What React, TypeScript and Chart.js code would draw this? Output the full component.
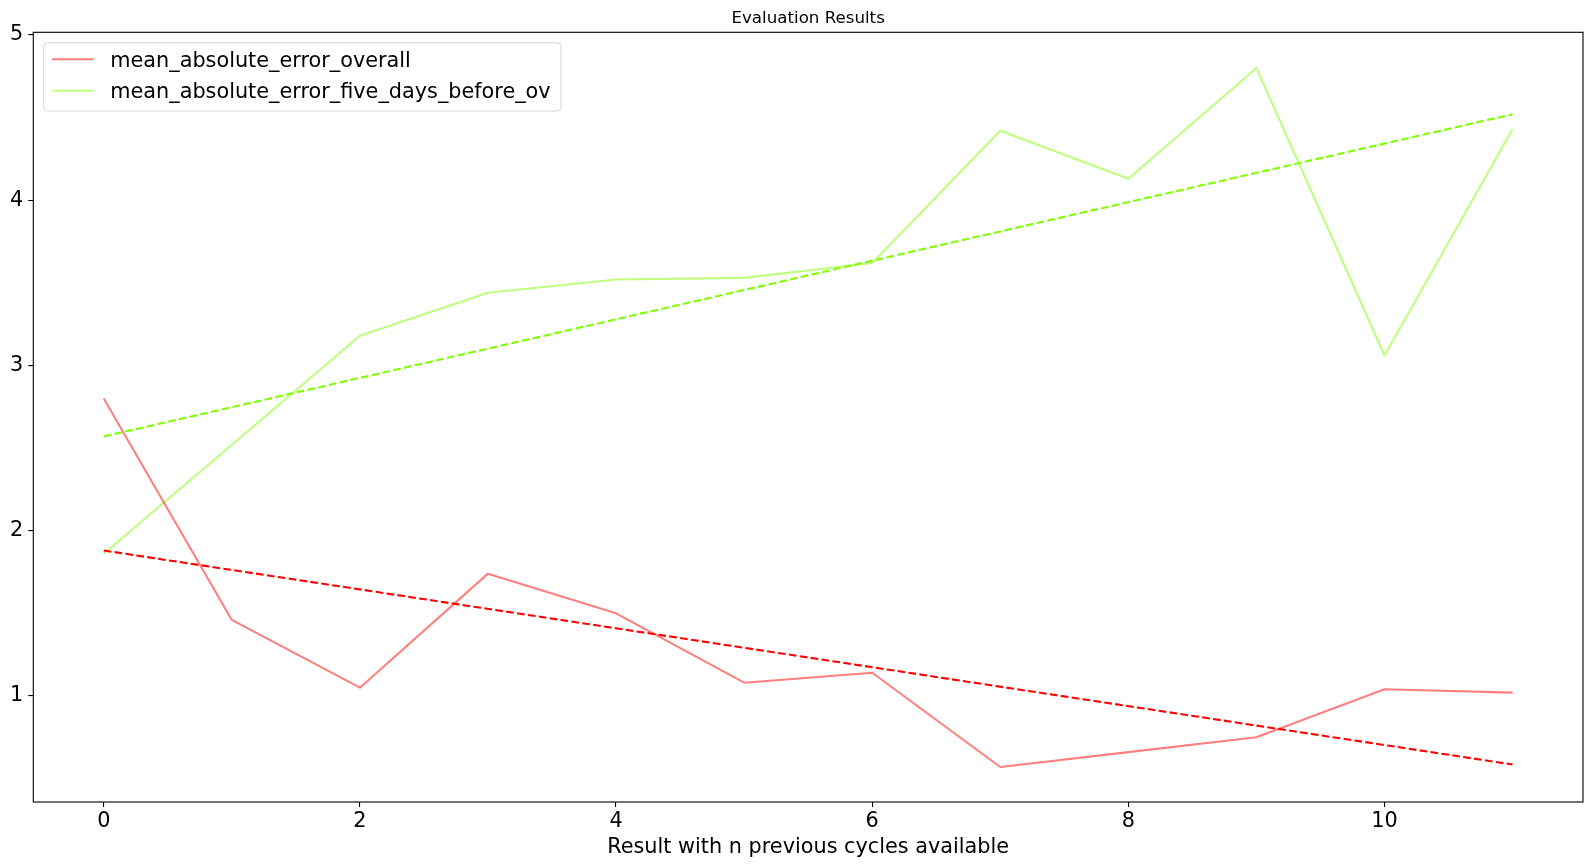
import React, { useEffect, useRef } from 'react';
import { Chart, registerables } from 'chart.js';

Chart.register(...registerables);

// ---- data ----
const cycles = [0, 1, 2, 3, 4, 5, 6, 7, 8, 9, 10, 11];
const maeOverall = [2.80, 1.46, 1.05, 1.74, 1.50, 1.08, 1.14, 0.57, 0.66, 0.75, 1.04, 1.02];
const maeFiveDays = [1.86, 2.52, 3.18, 3.44, 3.52, 3.53, 3.62, 4.42, 4.13, 4.80, 3.06, 4.43];
const trendX = [0, 11];
const trendOverall = [1.88, 0.585];
const trendFiveDays = [2.57, 4.52];
const xTicks = [0, 2, 4, 6, 8, 10];
const yTicks = [1, 2, 3, 4, 5];
const seriesLabels = ['mean_absolute_error_overall', 'mean_absolute_error_five_days_before_ov'];
const chartTitle = 'Evaluation Results';
const xTitle = 'Result with n previous cycles available';

const FONT = '"DejaVu Sans", "Liberation Sans", sans-serif';
const FS = 20.8;
const RED_LINE = 'rgba(255,0,0,0.5)';
const GREEN_LINE = 'rgba(127,255,0,0.5)';
const RED_TREND = 'rgb(255,0,0)';
const GREEN_TREND = 'rgb(127,255,0)';

const toXY = (xs: number[], ys: number[]) => xs.map((x, i) => ({ x, y: ys[i] }));

const framePlugin = {
  id: 'frameAndExtras',
  afterDraw(chart: any) {
    const { ctx, chartArea } = chart;
    const { left, right, top, bottom } = chartArea;
    ctx.save();
    // spines
    ctx.strokeStyle = '#000';
    ctx.lineWidth = 1.1;
    ctx.strokeRect(left, top, right - left, bottom - top);

    // title
    ctx.fillStyle = '#000';
    ctx.font = `16.67px ${FONT}`;
    ctx.textAlign = 'center';
    ctx.textBaseline = 'alphabetic';
    ctx.fillText(chartTitle, (left + right) / 2, 23);

    // legend
    ctx.font = `${FS}px ${FONT}`;
    const pad = 0.4 * FS;
    const handleLen = 2 * FS;
    const textPad = 0.8 * FS;
    const lx = left + 0.5 * FS;
    const ly = top + 0.5 * FS;
    const w = 561 - lx;
    const h = 111 - ly;
    const r = 4;
    ctx.beginPath();
    ctx.moveTo(lx + r, ly);
    ctx.lineTo(lx + w - r, ly);
    ctx.arcTo(lx + w, ly, lx + w, ly + r, r);
    ctx.lineTo(lx + w, ly + h - r);
    ctx.arcTo(lx + w, ly + h, lx + w - r, ly + h, r);
    ctx.lineTo(lx + r, ly + h);
    ctx.arcTo(lx, ly + h, lx, ly + h - r, r);
    ctx.lineTo(lx, ly + r);
    ctx.arcTo(lx, ly, lx + r, ly, r);
    ctx.closePath();
    ctx.fillStyle = 'rgba(255,255,255,0.8)';
    ctx.fill();
    ctx.strokeStyle = '#d6d6d6';
    ctx.lineWidth = 1;
    ctx.stroke();

    const colors = [RED_LINE, GREEN_LINE];
    const rowY = [59.3, 90.7];
    seriesLabels.forEach((s, i) => {
      ctx.strokeStyle = colors[i];
      ctx.lineWidth = 2.08;
      ctx.beginPath();
      ctx.moveTo(lx + pad, rowY[i]);
      ctx.lineTo(lx + pad + handleLen, rowY[i]);
      ctx.stroke();
      ctx.fillStyle = '#000';
      ctx.textAlign = 'left';
      ctx.textBaseline = 'alphabetic';
      ctx.fillText(s, lx + pad + handleLen + textPad, rowY[i] + 7.3);
    });
    ctx.restore();
  },
};

export default function App() {
  const canvasRef = useRef<HTMLCanvasElement | null>(null);

  useEffect(() => {
    document.body.style.margin = '0';
    document.body.style.overflow = 'hidden';
    const canvas = canvasRef.current;
    if (!canvas) return;
    const tickFont = { family: FONT, size: FS };
    const chart = new Chart(canvas, {
      type: 'line',
      data: {
        datasets: [
          {
            label: seriesLabels[0],
            data: toXY(cycles, maeOverall),
            borderColor: RED_LINE,
            borderWidth: 2.08,
            pointRadius: 0,
            tension: 0,
            borderJoinStyle: 'round',
            fill: false,
            order: 2,
          },
          {
            label: 'trend_overall',
            data: toXY(trendX, trendOverall),
            borderColor: RED_TREND,
            borderWidth: 2.08,
            borderDash: [7.7, 3.3],
            pointRadius: 0,
            tension: 0,
            fill: false,
            order: 1,
          },
          {
            label: seriesLabels[1],
            data: toXY(cycles, maeFiveDays),
            borderColor: GREEN_LINE,
            borderWidth: 2.08,
            pointRadius: 0,
            tension: 0,
            borderJoinStyle: 'round',
            fill: false,
            order: 2,
          },
          {
            label: 'trend_five_days',
            data: toXY(trendX, trendFiveDays),
            borderColor: GREEN_TREND,
            borderWidth: 2.08,
            borderDash: [7.7, 3.3],
            pointRadius: 0,
            tension: 0,
            fill: false,
            order: 0,
          },
        ],
      },
      options: {
        responsive: false,
        animation: false,
        events: [],
        layout: { padding: { top: 32.3, right: 9, left: 0, bottom: 0 } },
        plugins: {
          legend: { display: false },
          title: { display: false },
          tooltip: { enabled: false },
        },
        scales: {
          x: {
            type: 'linear',
            min: -0.55,
            max: 11.55,
            border: { display: false },
            grid: {
              drawOnChartArea: false,
              drawTicks: true,
              tickLength: 5,
              color: '#000',
              lineWidth: 1.1,
            },
            afterBuildTicks: (scale: any) => {
              scale.ticks = xTicks.map((v) => ({ value: v }));
            },
            afterFit: (scale: any) => {
              scale.height = 65;
            },
            ticks: {
              font: tickFont,
              color: '#000',
              padding: 2,
              maxRotation: 0,
              autoSkip: false,
              callback: (v: any) => String(v),
            },
            title: {
              display: true,
              text: xTitle,
              font: { family: FONT, size: FS },
              color: '#000',
              padding: { top: 0, bottom: 6.7 },
            },
          },
          y: {
            type: 'linear',
            min: 0.358,
            max: 5.016,
            border: { display: false },
            grid: {
              drawOnChartArea: false,
              drawTicks: true,
              tickLength: 5,
              color: '#000',
              lineWidth: 1.1,
            },
            afterBuildTicks: (scale: any) => {
              scale.ticks = yTicks.map((v) => ({ value: v }));
            },
            afterFit: (scale: any) => {
              scale.width = 33.3;
            },
            ticks: {
              font: tickFont,
              color: '#000',
              padding: 5,
              autoSkip: false,
              callback: (v: any) => String(v),
            },
          },
        },
      },
      plugins: [framePlugin],
    } as any);
    return () => chart.destroy();
  }, []);

  return (
    <div style={{ width: 1592, height: 867, background: '#fff' }}>
      <canvas ref={canvasRef} width={1592} height={867} style={{ width: 1592, height: 867, display: 'block' }} />
    </div>
  );
}
